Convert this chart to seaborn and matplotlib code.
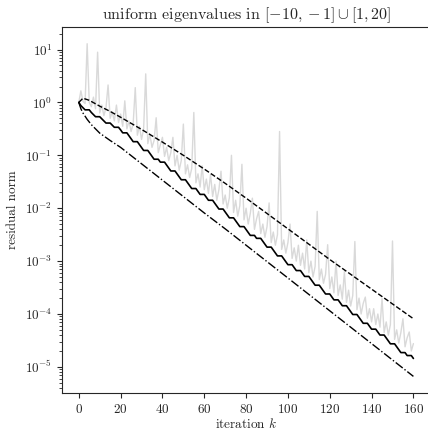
import matplotlib
matplotlib.use("Agg")
import matplotlib.pyplot as plt
import numpy as np
import pandas as pd
import seaborn as sns

# residual histories, stored as log10 values
iterations = list(range(161))

minres_log10 = [
    0.000, -0.060, -0.100, -0.140, -0.140, -0.140, -0.190, -0.230, -0.270, -0.270,
    -0.270, -0.310, -0.350, -0.390, -0.390, -0.390, -0.430, -0.470, -0.470, -0.470,
    -0.520, -0.575, -0.575, -0.575, -0.631, -0.686, -0.742, -0.742, -0.742, -0.797,
    -0.852, -0.908, -0.908, -0.908, -0.963, -1.019, -1.074, -1.074, -1.074, -1.129,
    -1.129, -1.129, -1.185, -1.240, -1.296, -1.296, -1.296, -1.351, -1.406, -1.462,
    -1.462, -1.462, -1.517, -1.573, -1.628, -1.628, -1.628, -1.683, -1.739, -1.739,
    -1.739, -1.794, -1.850, -1.850, -1.850, -1.905, -1.960, -2.016, -2.016, -2.016,
    -2.071, -2.127, -2.182, -2.182, -2.182, -2.237, -2.293, -2.348, -2.348, -2.348,
    -2.404, -2.459, -2.514, -2.514, -2.514, -2.570, -2.570, -2.570, -2.625, -2.681,
    -2.736, -2.736, -2.736, -2.791, -2.847, -2.902, -2.902, -2.902, -2.958, -3.013,
    -3.068, -3.068, -3.068, -3.124, -3.179, -3.179, -3.179, -3.235, -3.290, -3.290,
    -3.290, -3.345, -3.401, -3.456, -3.456, -3.456, -3.512, -3.567, -3.622, -3.622,
    -3.622, -3.678, -3.733, -3.733, -3.733, -3.789, -3.844, -3.844, -3.844, -3.899,
    -3.955, -4.010, -4.010, -4.010, -4.066, -4.121, -4.176, -4.176, -4.176, -4.232,
    -4.287, -4.287, -4.287, -4.343, -4.398, -4.398, -4.398, -4.453, -4.509, -4.564,
    -4.564, -4.564, -4.620, -4.675, -4.730, -4.730, -4.730, -4.786, -4.786, -4.786,
    -4.841,
]

cg_log10 = [
    0.00, 0.22, 0.02, -0.02, 1.11, 0.00, -0.08, 0.10, -0.12, 0.95,
    -0.20, -0.05, -0.25, -0.10, 0.33, -0.30, -0.18, -0.35, -0.05, -0.38,
    -0.22, -0.45, 0.03, -0.50, -0.35, -0.55, -0.40, 0.28, -0.62, -0.45,
    -0.70, -0.50, 0.54, -0.78, -0.60, -0.85, -0.72, -0.29, -0.95, -0.80,
    -0.66, -1.02, -0.85, -1.10, -0.95, -0.66, -1.20, -1.00, -1.28, -1.10,
    -0.41, -1.35, -1.18, -1.42, -1.25, -0.19, -1.52, -1.35, -1.60, -1.20,
    -1.65, -1.45, -1.72, -1.36, -1.78, -1.55, -1.85, -1.65, -1.30, -1.92,
    -1.75, -2.00, -1.80, -1.00, -2.08, -1.85, -2.15, -1.95, -1.17, -2.22,
    -2.00, -2.30, -2.10, -1.81, -2.40, -2.20, -2.06, -2.48, -2.30, -2.55,
    -2.35, -1.90, -2.65, -2.45, -2.70, -2.50, -0.55, -2.78, -2.60, -2.85,
    -2.65, -2.30, -2.95, -2.75, -3.00, -2.70, -3.08, -2.85, -3.15, -2.60,
    -3.22, -3.00, -3.30, -3.10, -2.06, -3.35, -3.15, -3.42, -3.25, -2.69,
    -3.52, -3.30, -3.60, -3.00, -3.65, -3.45, -3.72, -3.20, -3.78, -3.55,
    -3.85, -3.65, -2.63, -3.92, -3.70, -4.00, -3.80, -3.68, -4.08, -3.90,
    -4.15, -3.90, -4.20, -4.00, -4.25, -3.71, -4.35, -4.15, -4.40, -4.20,
    -2.62, -4.48, -4.30, -4.55, -4.35, -4.09, -4.62, -4.45, -4.34, -4.70,
    -4.56,
]

upper_k = [0, 2, 5, 10, 15, 20, 30, 40, 50, 60, 70, 80, 90, 100, 110, 120, 130, 140, 150, 160]
upper_log10 = [0.00, 0.08, 0.04, -0.07, -0.17, -0.28, -0.51, -0.75, -1.00, -1.26,
               -1.53, -1.81, -2.10, -2.39, -2.68, -2.97, -3.25, -3.53, -3.81, -4.09]

lower_k = [0, 1, 2, 4, 6, 8, 10, 15, 20, 30, 40, 50, 60, 70, 80, 90, 100, 110, 120, 130, 140, 150, 160]
lower_log10 = [0.00, -0.12, -0.20, -0.32, -0.42, -0.50, -0.58, -0.72, -0.85, -1.16, -1.47, -1.78,
               -2.09, -2.39, -2.70, -3.01, -3.32, -3.63, -3.94, -4.25, -4.56, -4.87, -5.18]


def frame(k, logs):
    return pd.DataFrame({"k": k, "res": 10.0 ** np.asarray(logs)})


def main():
    sns.set_theme(style="ticks", rc={
        "xtick.major.size": 3.5, "ytick.major.size": 3.5,
        "xtick.minor.size": 2.0, "ytick.minor.size": 2.0,
        "xtick.major.width": 0.8, "ytick.major.width": 0.8,
        "xtick.minor.width": 0.6, "ytick.minor.width": 0.6,
        "xtick.major.pad": 3.5, "ytick.major.pad": 3.5,
    })
    plt.rcParams["font.family"] = ["cmr10", "DejaVu Serif"]
    plt.rcParams["mathtext.fontset"] = "cm"
    plt.rcParams["axes.formatter.use_mathtext"] = True
    plt.rcParams["axes.unicode_minus"] = False

    fig = plt.figure(figsize=(4.28, 4.30), dpi=100)
    ax = fig.add_axes([0.145, 0.086, 0.86, 0.851])

    sns.lineplot(data=frame(iterations, cg_log10), x="k", y="res", ax=ax,
                 color="#d9d9d9", linewidth=1.0)
    sns.lineplot(data=frame(upper_k, upper_log10), x="k", y="res", ax=ax,
                 color="black", linewidth=1.0, linestyle="--")
    sns.lineplot(data=frame(lower_k, lower_log10), x="k", y="res", ax=ax,
                 color="black", linewidth=1.0, linestyle="-.")
    sns.lineplot(data=frame(iterations, minres_log10), x="k", y="res", ax=ax,
                 color="black", linewidth=1.2)

    ax.set_yscale("log")
    ax.set_xticks(range(0, 161, 20))
    ax.set_title(r"uniform eigenvalues in $[-10,-1]\cup[1,20]$", fontsize=11.5)
    ax.set_xlabel(r"iteration $k$", fontsize=9.5, labelpad=1)
    ax.set_ylabel("residual norm", fontsize=9.5)
    ax.tick_params(labelsize=9.5)
    for side in ax.spines.values():
        side.set_linewidth(0.8)

    fig.savefig("out.png", dpi=100)


if __name__ == "__main__":
    main()
